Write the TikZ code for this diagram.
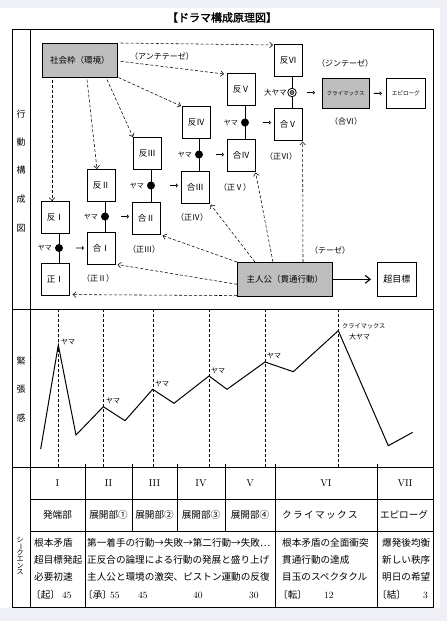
\documentclass[tikz,border=0pt]{standalone}
\usepackage{fontspec}
\newfontfamily\jp{Noto Sans CJK JP}
\newfontfamily\jpb{Noto Sans CJK JP}[FakeBold=2]
\usetikzlibrary{arrows.meta,shapes.arrows,calc}
\definecolor{bgc}{RGB}{238,240,245}
\definecolor{boxgray}{RGB}{190,190,190}
\begin{document}
\begin{tikzpicture}[x=1pt,y=-1pt,
  bx/.style={draw, line width=0.6pt, inner sep=0pt, anchor=north west, minimum width=28pt, minimum height=32pt, font=\jp\fontsize{8.5}{8.5}\selectfont},
  gb/.style={fill=boxgray},
  cn/.style={line width=0.55pt, dash pattern=on 3pt off 2pt, -{Straight Barb[length=3pt,width=5.5pt]}},
  dotn/.style={circle, fill=black, inner sep=0pt, minimum size=8pt},
  harr/.style={single arrow, draw, line width=0.45pt, inner sep=0pt, minimum height=7.5pt, minimum width=3pt, single arrow head extend=1.3pt},
  yl/.style={font=\jp\fontsize{7}{7}\selectfont, inner sep=0pt, anchor=east},
  lb/.style={font=\jp\fontsize{8}{8}\selectfont, inner sep=0pt},
  frm/.style={line width=0.8pt},
  tx/.style={font=\jp\fontsize{9.6}{9.6}\selectfont, inner sep=0pt, anchor=west},
  txc/.style={font=\jp\fontsize{9.6}{9.6}\selectfont, inner sep=0pt},
  rn/.style={font=\fontsize{10}{10}\selectfont, inner sep=0pt},
  num/.style={font=\fontsize{9.5}{9.5}\selectfont, inner sep=0pt, anchor=west},
  vl/.style={font=\jp\fontsize{9}{9}\selectfont, inner sep=0pt},
  cl/.style={font=\jp\fontsize{7}{7}\selectfont, inner sep=0pt, anchor=west},
]
\fill[bgc] (0,0) rectangle (447,621);
\fill[white] (0,8) rectangle (440,608);
\useasboundingbox (0,0) rectangle (447,621);

% title
\node[font=\jpb\fontsize{11}{11}\selectfont, inner sep=0pt] (title) at (222,17.5) {【ドラマ構成原理図】};

% frame
\draw[frm] (12,29) rectangle (433,607);
\draw[frm] (30,29) -- (30,607);
\draw[frm] (12,309) -- (433,309);
\draw[frm] (12,467) -- (433,467);
\draw[frm] (30,499) -- (433,499);
\draw[frm] (30,531) -- (433,531);
\foreach \x in {85,275,377} \draw[frm] (\x,464) -- (\x,607);
\foreach \x in {132,177,225} \draw[frm] (\x,464) -- (\x,531);

% vertical labels
\node[vl] at (21,114) {行};
\node[vl] at (21,142) {動};
\node[vl] at (21,170) {構};
\node[vl] at (21,199) {成};
\node[vl] at (21,228) {図};
\node[vl] at (21,361) {緊};
\node[vl] at (21,389) {張};
\node[vl] at (21,418) {感};
\node[font=\jp\fontsize{7}{7}\selectfont, inner sep=0pt] at (20,540) {シ};
\node[font=\jp\fontsize{7}{7}\selectfont, inner sep=0pt, rotate=-90] at (20,546.5) {ー};
\node[font=\jp\fontsize{7}{7}\selectfont, inner sep=0pt] at (20,553) {ク};
\node[font=\jp\fontsize{7}{7}\selectfont, inner sep=0pt] at (20,559.5) {エ};
\node[font=\jp\fontsize{7}{7}\selectfont, inner sep=0pt] at (20,566) {ン};
\node[font=\jp\fontsize{7}{7}\selectfont, inner sep=0pt] at (20,572.5) {ス};

% ===== section 1 =====
\node[bx, gb, minimum width=75pt, minimum height=34pt] (sk) at (42,43) {社会枠（環境）};
\node[bx] (h1) at (41,201) {反Ⅰ};
\node[bx] (h2) at (87,169) {反Ⅱ};
\node[bx] (h3) at (133,137) {反Ⅲ};
\node[bx] (h4) at (182,106) {反Ⅳ};
\node[bx] (h5) at (227,73) {反Ⅴ};
\node[bx] (h6) at (274,44) {反Ⅵ};
\node[bx] (s1) at (41,263) {正Ⅰ};
\node[bx] (g1) at (87,232) {合Ⅰ};
\node[bx] (g2) at (132,202) {合Ⅱ};
\node[bx] (g3) at (181,171) {合Ⅲ};
\node[bx] (g4) at (227,139) {合Ⅳ};
\node[bx] (g5) at (274,108) {合Ⅴ};
\node[bx, gb, minimum width=47pt, minimum height=30pt, font=\jp\fontsize{5.4}{5.4}\selectfont] (clx) at (322,78) {クライマックス};
\node[bx, minimum width=39pt, minimum height=30pt, font=\jp\fontsize{5.6}{5.6}\selectfont] (ep) at (386,78) {エピローグ};
\node[bx, gb, minimum width=95pt, minimum height=34pt] (sj) at (237,262) {主人公（貫通行動）};
\node[bx, minimum width=39pt, minimum height=34pt, font=\jp\fontsize{9}{9}\selectfont] (cho) at (377,262) {超目標};

% dots
\coordinate (d1) at (59,248);
\coordinate (d2) at (105,216.5);
\coordinate (d3) at (151,185.5);
\coordinate (d4) at (199,154.5);
\coordinate (d5) at (245,122.5);
\coordinate (d6) at (292,92.5);
\draw[line width=0.6pt] (h1.south -| d1) -- (s1.north -| d1);
\draw[line width=0.6pt] (h2.south -| d2) -- (g1.north -| d2);
\draw[line width=0.6pt] (h3.south -| d3) -- (g2.north -| d3);
\draw[line width=0.6pt] (h4.south -| d4) -- (g3.north -| d4);
\draw[line width=0.6pt] (h5.south -| d5) -- (g4.north -| d5);
\draw[line width=0.6pt] (h6.south -| d6) -- (g5.north -| d6);
\foreach \i in {1,...,5} {\node[dotn] (dn\i) at (d\i) {};}
\node[circle, draw, fill=white, line width=0.8pt, inner sep=0pt, minimum size=8.5pt] (dn6) at (d6) {};
\node[circle, draw, fill=gray, line width=0.5pt, inner sep=0pt, minimum size=4pt] at (d6) {};

\node[yl] at ($(d1)+(-7,0)$) {ヤマ};
\node[yl] at ($(d2)+(-7,0)$) {ヤマ};
\node[yl] at ($(d3)+(-7,0)$) {ヤマ};
\node[yl] at ($(d4)+(-7,0)$) {ヤマ};
\node[yl] at ($(d5)+(-7,0)$) {ヤマ};
\node[yl, font=\jp\fontsize{7.6}{7.6}\selectfont] at ($(d6)+(-5,0)$) {大ヤマ};

% hollow arrows
\node[harr] at ($(d1 -| g1.west)+(-7,0)$) {};
\node[harr] at ($(d2 -| g2.west)+(-7,0)$) {};
\node[harr] at ($(d3 -| g3.west)+(-7,0)$) {};
\node[harr] at ($(d4 -| g4.west)+(-7,0)$) {};
\node[harr] at ($(d5 -| g5.west)+(-7,0)$) {};
\node[harr] at ($(d6 -| clx.west)+(-11,0)$) {};
\node[harr] at ($(clx.east)!0.5!(ep.west)$) {};

% dashed connectors from society
\draw[cn] ($(sk.north east)+(3,0)$) -- ($(h6.north west)+(-1,1)$);
\draw[cn] ($(sk.east)+(3,1)$) -- ($(h5.north west)+(-3,1)$);
\draw[cn] ($(sk.south east)+(1,0)$) -- ($(h4.north west)+(-1,0)$);
\draw[cn] ($(sk.south west)+(65,2)$) -- ($(h3.north west)+(0,0)$);
\draw[cn] ($(sk.south west)+(45,2)$) -- ($(h2.north west)+(10,0)$);
\draw[cn] ($(sk.south west)+(10,2)$) -- ($(h1.north west)+(11,0)$);

% dashed connectors from protagonist
\draw[cn] ($(sj.south west)+(0,-1)$) -- ($(s1.south east)+(3,-1)$);
\draw[cn] ($(sj.west)+(0,5)$) -- ($(g1.south east)+(2,0)$);
\draw[cn] (sj.north west) -- ($(g2.south east)+(2,1)$);
\draw[cn] ($(sj.north west)+(18,0)$) -- ($(g3.south east)+(1,1)$);
\draw[cn] ($(sj.north west)+(36,0)$) -- ($(g4.south east)+(0,1)$);
\draw[cn] ($(sj.north west)+(66,0)$) -- ($(g5.south east)+(0,1)$);
\draw[line width=1.1pt, -{Straight Barb[length=5pt,width=8pt]}] (sj.east) -- ($(cho.west)+(-6,0)$);

% labels
\node[lb] at (162,56) {（アンチテーゼ）};
\node[lb] at (345,63) {（ジンテーゼ）};
\node[lb] at (346,121) {（合Ⅵ）};
\node[lb] at (330,250) {（テーゼ）};
\node[lb] at (98,278) {（正Ⅱ）};
\node[lb] at (144,249) {（正Ⅲ）};
\node[lb] at (192,217) {（正Ⅳ）};
\node[lb] at (235,187) {（正Ⅴ）};
\node[lb] at (281,156) {（正Ⅵ）};

% ===== section 2 =====
\foreach \x in {58,103,153,209,265,338} \draw[line width=0.6pt, dash pattern=on 3pt off 2pt] (\x,309) -- (\x,467);
\draw[line width=1pt] (40.7,449) -- (58.3,345) -- (76,435) -- (103.3,406.7) -- (125,420.7) -- (152.7,389.3) -- (174,403.3) -- (209,376) -- (227,389.3) -- (265,362) -- (293.3,371.7) -- (338.3,330.7) -- (388.3,445.7) -- (412.7,432.3);
\node[cl] at (61,342) {ヤマ};
\node[cl] at (106,401) {ヤマ};
\node[cl] at (155,384) {ヤマ};
\node[cl] at (211,371) {ヤマ};
\node[cl] at (267,356) {ヤマ};
\node[cl, font=\jp\fontsize{6.2}{6.2}\selectfont] at (342,326) {クライマックス};
\node[cl] at (349,337) {大ヤマ};

% ===== section 3 =====
\node[rn] at (57.5,483) {I};
\node[rn] at (108.5,483) {II};
\node[rn] at (154.5,483) {III};
\node[rn] at (201,483) {IV};
\node[rn] at (250,483) {V};
\node[rn] at (326,483) {VI};
\node[rn] at (405,483) {VII};

\node[txc] at (57.5,515) {発端部};
\node[txc] at (108.5,515) {展開部①};
\node[txc] at (154.5,515) {展開部②};
\node[txc] at (201,515) {展開部③};
\node[txc] at (250,515) {展開部④};
\node[txc] at (320,515) {ク\hspace{1.4pt}ラ\hspace{1.4pt}イ\hspace{1.4pt}マ\hspace{1.4pt}ッ\hspace{1.4pt}ク\hspace{1.4pt}ス};
\node[txc] at (404,515) {エピローグ};

\node[tx] at (34,543) {根本矛盾};
\node[tx] at (34,560) {超目標発起};
\node[tx] at (34,577) {必要初速};
\node[tx] at (31,595) {〔起〕};
\node[num] at (62,595) {45};

\node[tx] at (87,543) {第一着手の行動→失敗→第二行動→失敗…};
\node[tx] at (87,560) {正反合の論理による行動の発展と盛り上げ};
\node[tx] at (87,577) {主人公と環境の激突、ピストン運動の反復};
\node[tx] at (83,595) {〔承〕};
\node[num] at (110,595) {55};
\node[num] at (138,595) {45};
\node[num] at (193,595) {40};
\node[num] at (249,595) {30};

\node[tx] at (282,543) {根本矛盾の全面衝突};
\node[tx] at (282,560) {貫通行動の達成};
\node[tx] at (282,577) {目玉のスペクタクル};
\node[tx] at (278,595) {〔転〕};
\node[num] at (324,595) {12};

\node[tx] at (382,543) {爆発後均衡};
\node[tx] at (382,560) {新しい秩序};
\node[tx] at (382,577) {明日の希望};
\node[tx] at (377,595) {〔結〕};
\node[num] at (423,595) {3};
\end{tikzpicture}
\end{document}
